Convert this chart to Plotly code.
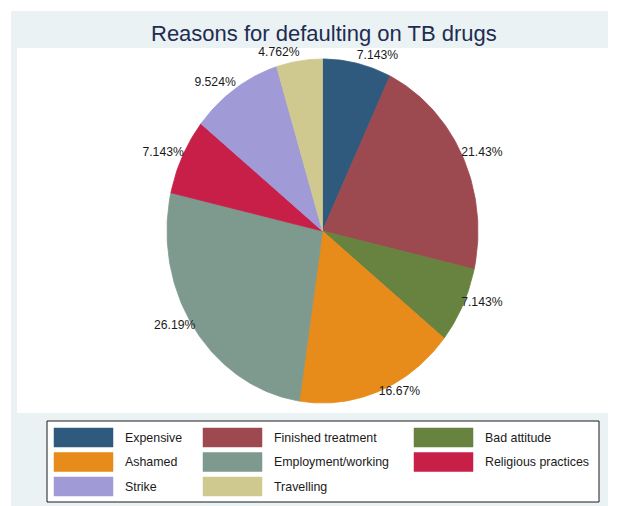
import numpy as np
import plotly.graph_objects as go

# ---- data ----
categories = ["Expensive", "Finished treatment", "Bad attitude", "Ashamed",
              "Employment/working", "Religious practices", "Strike", "Travelling"]
counts = [3, 9, 3, 7, 11, 3, 4, 2]
colors = ["#305a7d", "#9c4a50", "#67833f", "#e78b1b",
          "#7e998e", "#c81f48", "#a09ad6", "#cfc98f"]
title_text = "Reasons for defaulting on TB drugs"

# ---- layout constants (reference pixels; page body adds an 8px offset) ----
OFF = 8
W, H = 622 - OFF, 506 - OFF
def fx(x):
    return min(max((x - OFF) / W, 0.0), 1.0)
def fy(y):
    return min(max(1 - (y - OFF) / H, 0.0), 1.0)

CX, CY, RX, RY = 322.5, 231.0, 155.5, 172.0   # pie ellipse (reference px)
PAD = 1.2                                      # axis range extends beyond pie
FONT = "Liberation Sans, Arial, sans-serif"

total = sum(counts)
fracs = [c / total for c in counts]
pct_labels = [f"{100 * f:.4g}%" for f in fracs]

fig = go.Figure()

# slices (clockwise from 12 o'clock), drawn as filled polygons on the axes
start = 0.0
mids = []
for cat, f, col, lab in zip(categories, fracs, colors, pct_labels):
    n = max(int(f * 360), 8)
    th = np.linspace(start, start + f, n + 1) * 2 * np.pi
    xs = np.concatenate([[0.0], np.sin(th), [0.0]])
    ys = np.concatenate([[0.0], np.cos(th), [0.0]])
    fig.add_trace(go.Scatter(
        x=xs, y=ys, mode="lines", fill="toself", fillcolor=col,
        line=dict(color=col, width=0.8), name=cat, showlegend=False,
        hoveron="fills", hoverinfo="text", text=f"{cat}: {lab}",
    ))
    mids.append((start + f / 2) * 2 * np.pi)
    start += f

# percent labels outside the pie
mids = np.array(mids)
sx, cy_ = np.sin(mids), np.cos(mids)
lx = sx * 0.99
ly = cy_ * 1.045
tpos = []
for s, c in zip(sx, cy_):
    side = "right" if s >= 0 else "left"
    vert = "middle" if c >= 0 else "top"
    tpos.append(f"{vert} {side}")
fig.add_trace(go.Scatter(
    x=lx, y=ly, mode="text", text=pct_labels, textposition=tpos,
    textfont=dict(family=FONT, size=12.2, color="#1a1a1a"),
    showlegend=False, hoverinfo="skip", cliponaxis=False,
))

shapes = []
# outer light background
shapes.append(dict(type="rect", xref="paper", yref="paper",
                   x0=fx(11), x1=fx(608), y0=fy(510), y1=fy(11),
                   fillcolor="#eaf2f3", line=dict(width=0), layer="below"))
# inner white plot region
shapes.append(dict(type="rect", xref="paper", yref="paper",
                   x0=fx(17), x1=fx(608), y0=fy(413), y1=fy(48),
                   fillcolor="#ffffff", line=dict(width=0), layer="below"))
# legend box
shapes.append(dict(type="rect", xref="paper", yref="paper",
                   x0=fx(47), x1=fx(599), y0=fy(502), y1=fy(421),
                   fillcolor="#ffffff", line=dict(color="#1a1a1a", width=1),
                   layer="below"))

annotations = [dict(text=title_text, xref="paper", yref="paper",
                    x=fx(324), y=fy(34), xanchor="center", yanchor="middle",
                    showarrow=False,
                    font=dict(family=FONT, size=22, color="#1e2c52"))]

# legend entries (3 columns, row-major)
col_x = [54, 203, 414]
row_y = [428, 452.5, 477]
SW_W, SW_H = 59, 19
for i, (cat, col) in enumerate(zip(categories, colors)):
    r, c = divmod(i, 3)
    x0, y0 = col_x[c], row_y[r]
    shapes.append(dict(type="rect", xref="paper", yref="paper",
                       x0=fx(x0), x1=fx(x0 + SW_W), y0=fy(y0 + SW_H), y1=fy(y0),
                       fillcolor=col, line=dict(color=col, width=0.5)))
    annotations.append(dict(text=cat, xref="paper", yref="paper",
                            x=fx(x0 + SW_W + 10), y=fy(y0 + SW_H / 2),
                            xanchor="left", yanchor="middle", showarrow=False,
                            font=dict(family=FONT, size=12.4, color="#1a1a1a")))

fig.update_layout(
    width=W, height=H,
    margin=dict(l=0, r=0, t=0, b=0),
    paper_bgcolor="#ffffff", plot_bgcolor="rgba(0,0,0,0)",
    xaxis=dict(domain=[fx(CX - PAD * RX), fx(CX + PAD * RX)], range=[-PAD, PAD],
               visible=False, fixedrange=True),
    yaxis=dict(domain=[fy(CY + PAD * RY), fy(CY - PAD * RY)], range=[-PAD, PAD],
               visible=False, fixedrange=True),
    shapes=shapes, annotations=annotations, showlegend=False,
)

fig.write_html("out.html")
